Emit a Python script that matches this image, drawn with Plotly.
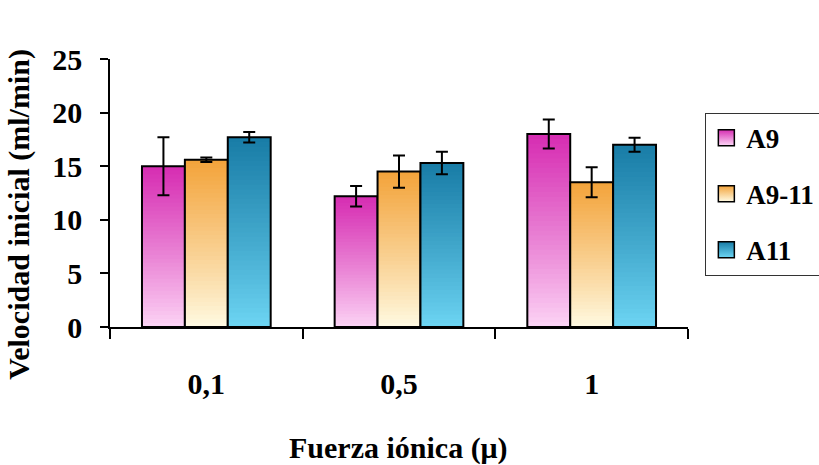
import plotly.graph_objects as go

# Ionic strength categories and initial velocity (ml/min) per strain
categories = ["0,1", "0,5", "1"]
series_names = ["A9", "A9-11", "A11"]
a9_values = [15.0, 12.2, 18.0]
a9_errors = [2.7, 0.95, 1.35]
a9_11_values = [15.6, 14.5, 13.5]
a9_11_errors = [0.2, 1.5, 1.4]
a11_values = [17.7, 15.3, 17.0]
a11_errors = [0.5, 1.05, 0.65]
y_ticks = [0, 5, 10, 15, 20, 25]

values = [a9_values, a9_11_values, a11_values]
errors = [a9_errors, a9_11_errors, a11_errors]

# (top colour, bottom colour) for each series' vertical fade
gradients = [
    ((214, 44, 178), (252, 214, 246)),
    ((243, 163, 58), (255, 251, 228)),
    ((24, 124, 166), (110, 214, 244)),
]

FONT = "Liberation Serif"
N_LAYERS = 40


def blend(top, bottom, t):
    # t = 1 at the top of the bar, 0 at the bottom
    r, g, b = (round(bottom[i] + (top[i] - bottom[i]) * t) for i in range(3))
    return f"rgb({r},{g},{b})"


fig = go.Figure()

for name, vals, errs, (top, bottom) in zip(series_names, values, errors, gradients):
    # Stack of shrinking bars painted top colour first: gives a vertical fade
    for k in range(N_LAYERS):
        frac = (N_LAYERS - k) / N_LAYERS
        t = (frac - 0.5 / N_LAYERS) ** 0.9
        fig.add_trace(go.Bar(
            x=categories,
            y=[v * frac for v in vals],
            offsetgroup=name,
            marker=dict(color=blend(top, bottom, t), line=dict(width=0)),
            showlegend=False,
            hoverinfo="skip",
        ))
    # Outline with error bars
    fig.add_trace(go.Bar(
        x=categories,
        y=vals,
        offsetgroup=name,
        name=name,
        marker=dict(color="rgba(0,0,0,0)", line=dict(color="black", width=2)),
        error_y=dict(type="data", array=errs, visible=True,
                     color="black", thickness=2, width=6),
        showlegend=False,
    ))
    # Legend swatch
    fig.add_trace(go.Scatter(
        x=[None], y=[None],
        mode="markers",
        name=name,
        legendgroup=name,
        marker=dict(symbol="square", size=16,
                    color=blend(top, bottom, 1.0),
                    gradient=dict(type="vertical", color=blend(top, bottom, 0.0)),
                    line=dict(color="black", width=1.5)),
    ))

fig.update_layout(
    width=819,
    height=465,
    margin=dict(l=110, r=131, t=59, b=138, autoexpand=False),
    paper_bgcolor="white",
    plot_bgcolor="white",
    barmode="group",
    bargap=0.332,
    bargroupgap=0,
    font=dict(family=FONT, size=30, color="black", weight="bold"),
    showlegend=True,
    legend=dict(
        x=1.03, xanchor="left",
        y=0.80, yanchor="top",
        bordercolor="#333333", borderwidth=1,
        font=dict(family=FONT, size=27, color="black", weight="bold"),
        itemsizing="trace",
        tracegroupgap=18,
        bgcolor="white",
    ),
    xaxis=dict(
        type="category",
        showline=True, linecolor="black", linewidth=1.5,
        ticks="outside", tickson="boundaries", ticklen=10,
        tickcolor="black", tickwidth=1.5,
        ticklabelstandoff=29,
        showgrid=False, zeroline=False,
    ),
    yaxis=dict(
        range=[0, 25],
        tickvals=y_ticks,
        showline=True, linecolor="black", linewidth=1.5,
        ticks="outside", ticklen=8, tickcolor="black", tickwidth=1.5,
        ticklabelstandoff=12,
        showgrid=False, zeroline=False,
    ),
    annotations=[
        dict(text="Fuerza iónica (μ)", xref="paper", yref="paper",
             x=0.499, y=-0.4515, xanchor="center", yanchor="middle",
             showarrow=False, font=dict(family=FONT, size=30, weight="bold")),
        dict(text="Velocidad inicial (ml/min)", xref="paper", yref="paper",
             x=-0.157, y=0.42, xanchor="center", yanchor="middle",
             textangle=-90, showarrow=False,
             font=dict(family=FONT, size=30, weight="bold")),
    ],
)

fig.write_html("out.html")
